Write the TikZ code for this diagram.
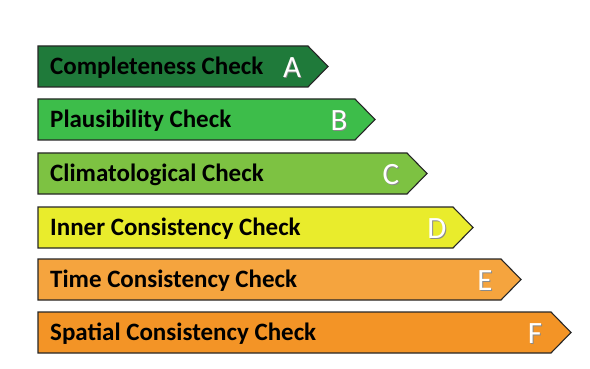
\documentclass[tikz,border=0pt]{standalone}
\usepackage{fontspec}
\setmainfont{Carlito}
\definecolor{gradeA}{HTML}{1F7A3A}
\definecolor{gradeB}{HTML}{3DBD4A}
\definecolor{gradeC}{HTML}{7DC242}
\definecolor{gradeD}{HTML}{E9EC2C}
\definecolor{gradeE}{HTML}{F5A43E}
\definecolor{gradeF}{HTML}{F39426}
\definecolor{letteredge}{HTML}{8A8A8A}
\tikzset{
  x=1pt, y=-1pt,
  bar/.style={draw=black!85, line width=1.1pt, line join=miter},
  checktext/.style={anchor=west, inner sep=0pt, font=\bfseries\fontsize{25}{25}\selectfont, text=black},
  gradeletter/.style={inner sep=0pt, font=\fontsize{31}{31}\selectfont, text=white},
  lettershadow/.style={inner sep=0pt, font=\fontsize{31}{31}\selectfont, text=letteredge},
}
\begin{document}
\begin{tikzpicture}
\useasboundingbox (0,0) rectangle (590,369);
% each grade: name / top edge / arrow tip x / colour / caption / letter
\foreach \n/\t/\tip/\col/\cap/\L in {
  a/46/328/gradeA/Completeness Check/A,
  b/99/375/gradeB/Plausibility Check/B,
  c/153/427/gradeC/Climatological Check/C,
  d/207/473/gradeD/Inner Consistency Check/D,
  e/259/521/gradeE/Time Consistency Check/E,
  f/312/571/gradeF/Spatial Consistency Check/F}
{
  \pgfmathsetmacro{\b}{\t+41}
  \pgfmathsetmacro{\m}{\t+20.5}
  \pgfmathsetmacro{\e}{\tip-20}
  \pgfmathsetmacro{\lx}{\tip-36}
  \path[bar, fill=\col] (38,\t) -- (\e,\t) -- (\tip,\m) -- (\e,\b) -- (38,\b) -- cycle;
  \node[checktext] (cap-\n) at (50,\m+1) {\cap};
  \node[lettershadow] (shadow-\n) at (\lx+0.9,\m+1.9) {\L};
  \node[gradeletter] (letter-\n) at (\lx,\m+1) {\L};
}
\end{tikzpicture}
\end{document}
